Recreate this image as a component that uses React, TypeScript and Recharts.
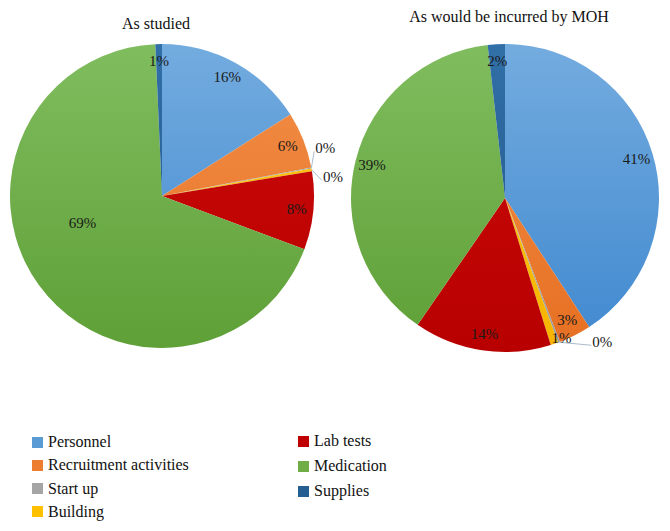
import React from "react";
import { PieChart, Pie, Cell } from "recharts";

const categories = [
  "Personnel",
  "Recruitment activities",
  "Start up",
  "Building",
  "Lab tests",
  "Medication",
  "Supplies",
];
// shares in %
const asStudied = [16.0, 6.0, 0.1, 0.3, 8.3, 68.6, 0.7];
const asMoh = [40.8, 3.4, 0.2, 0.8, 14.4, 38.6, 1.8];

const colors = ["#5b9bd5", "#ed7d31", "#a5a5a5", "#ffc000", "#c00000", "#70ad47", "#255e91"];
// top / bottom of the vertical gradient on each slice
const shades: [string, string][] = [
  ["#74acdf", "#3f88cf"],
  ["#f3904a", "#e66f22"],
  ["#b0b0b0", "#999999"],
  ["#ffc81a", "#f5b400"],
  ["#cc0a0a", "#b80000"],
  ["#80bd5f", "#5e9f36"],
  ["#3170a8", "#215586"],
];

const FONT = "'Liberation Serif', 'DejaVu Serif', serif";
const RAD = Math.PI / 180;

// label spots that Excel moved away from the slice middle (compass angle, px from centre)
const labelSpots: Record<string, { angle: number; dist: number; leader?: boolean }> = {
  "left:Medication": { angle: 251, dist: 84 },
  "left:Start up": { angle: 73.7, dist: 170, leader: true },
  "left:Building": { angle: 83.8, dist: 172, leader: true },
  "right:Building": { angle: 158, dist: 151 },
  "right:Start up": { angle: 146, dist: 174, leader: true },
};

const toXY = (cx: number, cy: number, compass: number, r: number) => ({
  x: cx + r * Math.sin(compass * RAD),
  y: cy - r * Math.cos(compass * RAD),
});

const makeLabel = (side: string) => (props: any) => {
  const { cx, cy, midAngle, outerRadius, percent, name } = props;
  const compass = 90 - midAngle;
  const spot = labelSpots[`${side}:${name}`];
  const angle = spot ? spot.angle : compass;
  const dist = spot ? spot.dist : outerRadius * 0.89;
  const p = toXY(cx, cy, angle, dist);
  const text = `${Math.round(percent * 100)}%`;
  let leader = null;
  if (spot && spot.leader) {
    const e = toXY(cx, cy, compass, outerRadius);
    leader = (
      <polyline
        points={`${e.x},${e.y} ${p.x - 11},${p.y + 3}`}
        fill="none"
        stroke="#a9bccf"
        strokeWidth={1}
      />
    );
  }
  return (
    <g>
      {leader}
      <text
        x={p.x}
        y={p.y}
        textAnchor="middle"
        dominantBaseline="central"
        fill="#1a1a1a"
        style={{ fontFamily: FONT, fontSize: 15 }}
      >
        {text}
      </text>
    </g>
  );
};

const leftData = categories.map((name, i) => ({ name, value: asStudied[i] }));
const rightData = categories.map((name, i) => ({ name, value: asMoh[i] }));

const legendCols = [
  { left: 32, rows: [0, 1, 2, 3], top: 432, step: 23.3 },
  { left: 298, rows: [4, 5, 6], top: 431, step: 25 },
];

const textStyle: React.CSSProperties = { fontFamily: FONT, fontSize: 16, color: "#111" };

export default function App() {
  return (
    <div style={{ position: "relative", width: 670, height: 531, background: "#fff", fontFamily: FONT }}>
      <style>{"body{margin:0}"}</style>
      <div style={{ ...textStyle, position: "absolute", left: 6, top: 14, width: 300, textAlign: "center", lineHeight: "20px" }}>
        As studied
      </div>
      <div style={{ ...textStyle, position: "absolute", left: 359, top: 7, width: 300, textAlign: "center", lineHeight: "20px" }}>
        As would be incurred by MOH
      </div>
      <PieChart width={670} height={380} margin={{ top: 0, right: 0, bottom: 0, left: 0 }}>
        <defs>
          {shades.map((s, i) => (
            <linearGradient key={i} id={`shade${i}`} gradientUnits="userSpaceOnUse" x1="0" y1="40" x2="0" y2="355">
              <stop offset="0%" stopColor={s[0]} />
              <stop offset="100%" stopColor={s[1]} />
            </linearGradient>
          ))}
        </defs>
        <Pie
          data={leftData}
          dataKey="value"
          nameKey="name"
          cx={162}
          cy={196}
          outerRadius={152}
          startAngle={90}
          endAngle={-270}
          stroke="none"
          label={makeLabel("left")}
          labelLine={false}
          isAnimationActive={false}
        >
          {leftData.map((d, i) => (
            <Cell key={d.name} fill={`url(#shade${i})`} />
          ))}
        </Pie>
        <Pie
          data={rightData}
          dataKey="value"
          nameKey="name"
          cx={505}
          cy={198}
          outerRadius={154}
          startAngle={90}
          endAngle={-270}
          stroke="none"
          label={makeLabel("right")}
          labelLine={false}
          isAnimationActive={false}
        >
          {rightData.map((d, i) => (
            <Cell key={d.name} fill={`url(#shade${i})`} />
          ))}
        </Pie>
      </PieChart>
      {legendCols.map((col, ci) =>
        col.rows.map((idx, ri) => (
          <div
            key={`${ci}-${idx}`}
            style={{
              ...textStyle,
              position: "absolute",
              left: col.left,
              top: col.top + ri * col.step,
              height: 20,
              display: "flex",
              alignItems: "center",
              whiteSpace: "nowrap",
            }}
          >
            <span style={{ display: "inline-block", width: 11, height: 11, background: colors[idx], marginRight: 5 }} />
            {categories[idx]}
          </div>
        ))
      )}
    </div>
  );
}
